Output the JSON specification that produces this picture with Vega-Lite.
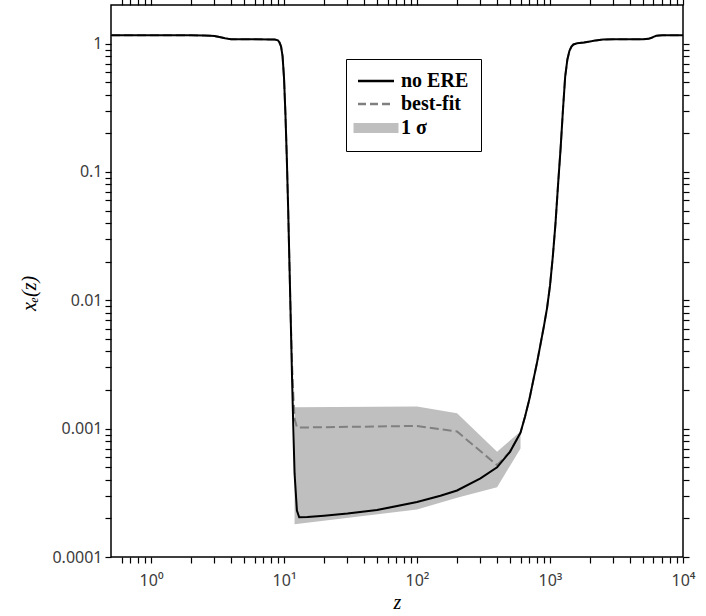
{
  "$schema": "https://vega.github.io/schema/vega-lite/v6.json",
  "width": 572,
  "height": 552,
  "autosize": "none",
  "padding": {"left": 111, "top": 5, "right": 23, "bottom": 59},
  "background": "white",
  "config": {
    "view": {"stroke": "black", "strokeWidth": 1.5},
    "axis": {
      "domain": false, "grid": false, "ticks": true, "tickSize": 6, "tickColor": "black", "tickWidth": 1.2,
      "labelFont": "Noto Sans", "labelFontSize": 16, "labelColor": "#3c3c3c",
      "labelFlush": false, "labelOverlap": false,
      "titleFont": "Liberation Serif", "titleFontStyle": "italic", "titleFontWeight": "normal",
      "titleFontSize": 20, "titleColor": "black"
    }
  },
  "datasets": {
    "noere": [
      {"z": 0.5, "xe": 1.16}, {"z": 1, "xe": 1.16}, {"z": 2, "xe": 1.16}, {"z": 2.5, "xe": 1.158},
      {"z": 2.8, "xe": 1.153}, {"z": 3.0, "xe": 1.145}, {"z": 3.2, "xe": 1.13}, {"z": 3.4, "xe": 1.115},
      {"z": 3.6, "xe": 1.1}, {"z": 3.8, "xe": 1.09}, {"z": 4.0, "xe": 1.084}, {"z": 4.5, "xe": 1.08},
      {"z": 6, "xe": 1.08}, {"z": 8, "xe": 1.079}, {"z": 8.5, "xe": 1.075}, {"z": 9.0, "xe": 1.06},
      {"z": 9.25, "xe": 1.02}, {"z": 9.5, "xe": 0.95}, {"z": 9.75, "xe": 0.8}, {"z": 10, "xe": 0.54},
      {"z": 10.25, "xe": 0.28}, {"z": 10.5, "xe": 0.126}, {"z": 10.75, "xe": 0.05}, {"z": 11, "xe": 0.018},
      {"z": 11.25, "xe": 0.0066}, {"z": 11.5, "xe": 0.0024}, {"z": 11.75, "xe": 0.001}, {"z": 12, "xe": 0.00045},
      {"z": 12.5, "xe": 0.00023}, {"z": 13, "xe": 0.000204}, {"z": 15, "xe": 0.000205}, {"z": 20, "xe": 0.00021},
      {"z": 30, "xe": 0.000218}, {"z": 50, "xe": 0.000232}, {"z": 100, "xe": 0.000268}, {"z": 150, "xe": 0.0003},
      {"z": 200, "xe": 0.00033}, {"z": 300, "xe": 0.00041}, {"z": 400, "xe": 0.0005}, {"z": 500, "xe": 0.00066},
      {"z": 600, "xe": 0.00093}, {"z": 650, "xe": 0.00125}, {"z": 700, "xe": 0.0017}, {"z": 750, "xe": 0.0024},
      {"z": 800, "xe": 0.0033}, {"z": 850, "xe": 0.0046}, {"z": 900, "xe": 0.0063}, {"z": 950, "xe": 0.0087},
      {"z": 1000, "xe": 0.013}, {"z": 1050, "xe": 0.022}, {"z": 1100, "xe": 0.04}, {"z": 1150, "xe": 0.08},
      {"z": 1200, "xe": 0.15}, {"z": 1250, "xe": 0.3}, {"z": 1300, "xe": 0.55}, {"z": 1350, "xe": 0.75},
      {"z": 1400, "xe": 0.88}, {"z": 1450, "xe": 0.95}, {"z": 1500, "xe": 0.985}, {"z": 1600, "xe": 1.005},
      {"z": 1800, "xe": 1.02}, {"z": 2000, "xe": 1.04}, {"z": 2200, "xe": 1.06}, {"z": 2500, "xe": 1.075},
      {"z": 3000, "xe": 1.08}, {"z": 5000, "xe": 1.08}, {"z": 5500, "xe": 1.09}, {"z": 5800, "xe": 1.11},
      {"z": 6000, "xe": 1.13}, {"z": 6300, "xe": 1.15}, {"z": 6600, "xe": 1.158}, {"z": 7000, "xe": 1.16},
      {"z": 10000, "xe": 1.16}
    ],
    "bestfit": [
      {"z": 0.5, "xe": 1.16}, {"z": 1, "xe": 1.16}, {"z": 2, "xe": 1.16}, {"z": 2.5, "xe": 1.158},
      {"z": 2.8, "xe": 1.153}, {"z": 3.0, "xe": 1.145}, {"z": 3.2, "xe": 1.13}, {"z": 3.4, "xe": 1.115},
      {"z": 3.6, "xe": 1.1}, {"z": 3.8, "xe": 1.09}, {"z": 4.0, "xe": 1.084}, {"z": 4.5, "xe": 1.08},
      {"z": 6, "xe": 1.08}, {"z": 8, "xe": 1.079}, {"z": 8.5, "xe": 1.075}, {"z": 9.0, "xe": 1.06},
      {"z": 9.25, "xe": 1.02}, {"z": 9.5, "xe": 0.95}, {"z": 9.75, "xe": 0.8}, {"z": 10, "xe": 0.54},
      {"z": 10.25, "xe": 0.28}, {"z": 10.5, "xe": 0.126}, {"z": 10.75, "xe": 0.05}, {"z": 11, "xe": 0.018},
      {"z": 11.25, "xe": 0.0068}, {"z": 11.5, "xe": 0.0031}, {"z": 11.75, "xe": 0.0018}, {"z": 12, "xe": 0.0012},
      {"z": 12.5, "xe": 0.00102}, {"z": 100, "xe": 0.00105}, {"z": 200, "xe": 0.00095}, {"z": 400, "xe": 0.00052},
      {"z": 500, "xe": 0.00066}, {"z": 600, "xe": 0.00093}, {"z": 650, "xe": 0.00125}, {"z": 700, "xe": 0.0017},
      {"z": 750, "xe": 0.0024}, {"z": 800, "xe": 0.0033}, {"z": 850, "xe": 0.0046}, {"z": 900, "xe": 0.0063},
      {"z": 950, "xe": 0.0087}, {"z": 1000, "xe": 0.013}, {"z": 1050, "xe": 0.022}, {"z": 1100, "xe": 0.04},
      {"z": 1150, "xe": 0.08}, {"z": 1200, "xe": 0.15}, {"z": 1250, "xe": 0.3}, {"z": 1300, "xe": 0.55},
      {"z": 1350, "xe": 0.75}, {"z": 1400, "xe": 0.88}, {"z": 1450, "xe": 0.95}, {"z": 1500, "xe": 0.985},
      {"z": 1600, "xe": 1.005}, {"z": 1800, "xe": 1.02}, {"z": 2000, "xe": 1.04}, {"z": 2200, "xe": 1.06},
      {"z": 2500, "xe": 1.075}, {"z": 3000, "xe": 1.08}, {"z": 5000, "xe": 1.08}, {"z": 5500, "xe": 1.09},
      {"z": 5800, "xe": 1.11}, {"z": 6000, "xe": 1.13}, {"z": 6300, "xe": 1.15}, {"z": 6600, "xe": 1.158},
      {"z": 7000, "xe": 1.16}, {"z": 10000, "xe": 1.16}
    ],
    "sigma": [
      {"z": 12, "lo": 0.00018, "hi": 0.00147},
      {"z": 100, "lo": 0.000235, "hi": 0.00149},
      {"z": 200, "lo": 0.00029, "hi": 0.00132},
      {"z": 400, "lo": 0.00035, "hi": 0.00066},
      {"z": 600, "lo": 0.0007, "hi": 0.00095}
    ]
  },
  "layer": [
    {
      "data": {"name": "sigma"},
      "mark": {"type": "area", "opacity": 1},
      "encoding": {
        "x": {
          "field": "z", "type": "quantitative",
          "scale": {"type": "log", "domain": [0.5, 10000], "nice": false},
          "axis": {
            "orient": "bottom",
            "values": [0.6,0.7,0.8,0.9,1,2,3,4,5,6,7,8,9,10,20,30,40,50,60,70,80,90,100,200,300,400,500,600,700,800,900,1000,2000,3000,4000,5000,6000,7000,8000,9000,10000],
            "labelExpr": "abs(log(datum.value)/LN10 - round(log(datum.value)/LN10)) < 1e-6 ? '10' + ['⁰','¹','²','³','⁴'][round(log(datum.value)/LN10)] : ''",
            "labelPadding": 9, "title": "z", "titlePadding": 4
          }
        },
        "y": {
          "field": "lo", "type": "quantitative",
          "scale": {"type": "log", "domain": [0.0001, 2], "nice": false},
          "axis": {
            "orient": "left",
            "values": [0.0001,0.0002,0.0003,0.0004,0.0005,0.0006,0.0007,0.0008,0.0009,0.001,0.002,0.003,0.004,0.005,0.006,0.007,0.008,0.009,0.01,0.02,0.03,0.04,0.05,0.06,0.07,0.08,0.09,0.1,0.2,0.3,0.4,0.5,0.6,0.7,0.8,0.9,1],
            "labelExpr": "abs(log(datum.value)/LN10 - round(log(datum.value)/LN10)) < 1e-6 ? format(datum.value, '.4~f') : ''",
            "labelPadding": 3,
            "title": "xₑ(z)", "titleX": -82, "titleY": 288, "titleAngle": 270, "titleBaseline": "middle", "titleAlign": "center"
          }
        },
        "y2": {"field": "hi"},
        "color": {
          "datum": "1 σ", "type": "nominal",
          "scale": {"domain": ["no ERE", "best-fit", "1 σ"], "range": ["#000000", "#808080", "#bfbfbf"]},
          "legend": {
            "orient": "none", "legendX": 235, "legendY": 54, "title": null,
            "strokeColor": "black", "fillColor": "white", "padding": 12,
            "labelFont": "Liberation Serif", "labelFontWeight": "bold", "labelFontSize": 20, "labelColor": "black",
            "symbolSize": 225, "rowPadding": 3, "labelOffset": 15, "symbolOffset": 8,
            "symbolType": {"expr": "datum.value === '1 σ' ? 'M-3,-0.667H3V0.667H-3Z' : 'M-2.4,0H2.4'"},
            "symbolStrokeColor": {"expr": "datum.value === 'no ERE' ? '#000000' : (datum.value === 'best-fit' ? '#808080' : 'transparent')"},
            "symbolDash": {"expr": "datum.value === 'best-fit' ? [8, 4] : [1, 0]"},
            "symbolStrokeWidth": 2.5,
            "symbolOpacity": 1
          }
        }
      }
    },
    {
      "data": {"name": "bestfit"},
      "mark": {"type": "line", "strokeDash": [9, 4], "strokeWidth": 2, "color": "#808080"},
      "encoding": {
        "x": {
          "field": "z", "type": "quantitative",
          "scale": {"type": "log", "domain": [0.5, 10000], "nice": false},
          "axis": {
            "orient": "top", "labels": false, "title": null,
            "values": [0.6,0.7,0.8,0.9,1,2,3,4,5,6,7,8,9,10,20,30,40,50,60,70,80,90,100,200,300,400,500,600,700,800,900,1000,2000,3000,4000,5000,6000,7000,8000,9000,10000]
          }
        },
        "y": {
          "field": "xe", "type": "quantitative",
          "scale": {"type": "log", "domain": [0.0001, 2], "nice": false},
          "axis": {
            "orient": "right", "labels": false, "title": null,
            "values": [0.0001,0.0002,0.0003,0.0004,0.0005,0.0006,0.0007,0.0008,0.0009,0.001,0.002,0.003,0.004,0.005,0.006,0.007,0.008,0.009,0.01,0.02,0.03,0.04,0.05,0.06,0.07,0.08,0.09,0.1,0.2,0.3,0.4,0.5,0.6,0.7,0.8,0.9,1]
          }
        }
      }
    },
    {
      "data": {"name": "noere"},
      "mark": {"type": "line", "strokeWidth": 2, "color": "#000000"},
      "encoding": {
        "x": {"field": "z", "type": "quantitative", "scale": {"type": "log", "domain": [0.5, 10000], "nice": false}, "axis": null},
        "y": {"field": "xe", "type": "quantitative", "scale": {"type": "log", "domain": [0.0001, 2], "nice": false}, "axis": null}
      }
    }
  ],
  "resolve": {"axis": {"x": "independent", "y": "independent"}}
}
